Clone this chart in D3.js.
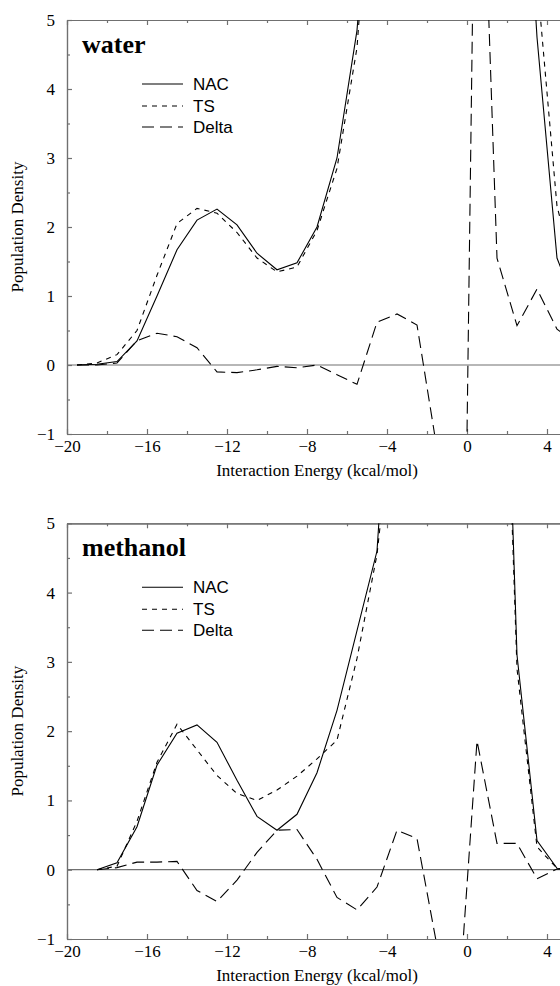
<!DOCTYPE html>
<html>
<head>
<meta charset="utf-8">
<script src="https://cdn.jsdelivr.net/npm/d3@7"></script>
<style>
  html, body { margin: 0; padding: 0; background: #fff; }
  svg { display: block; }
</style>
</head>
<body>
<div id="chart"></div>
<script>
// ---------------- DATA ----------------
const waterEnergy = [-19.5,-18.5,-17.5,-16.5,-15.5,-14.5,-13.5,-12.5,-11.5,-10.5,-9.5,-8.5,-7.5,-6.5,-5.5,-4.5,-3.5,-2.5,-1.5,-0.5,0.5,1.5,2.5,3.5,4.5,5.5];
const waterNAC   = [0,0.01,0.05,0.35,1.0,1.67,2.10,2.26,2.03,1.62,1.38,1.48,2.0,3.0,4.85,8.5,12,15,17,18,17,14,9.5,4.75,1.55,0.8];
const waterTS    = [0,0.03,0.15,0.5,1.3,2.05,2.27,2.2,1.92,1.55,1.35,1.42,1.95,2.85,4.6,8.5,12,15,17,18,18,15,10,5.6,2.3,1.2];
const waterDelta = [0,0,0.03,0.35,0.46,0.41,0.25,-0.1,-0.11,-0.07,-0.02,-0.04,0.0,-0.14,-0.28,0.62,0.74,0.58,-1.22,-12,10,1.55,0.57,1.1,0.52,0.3];

const methanolEnergy = [-18.5,-17.5,-16.5,-15.5,-14.5,-13.5,-12.5,-11.5,-10.5,-9.5,-8.5,-7.5,-6.5,-5.5,-4.5,-3.5,-2.5,-1.5,-0.5,0.5,1.5,2.5,3.5,4.5,5.5];
const methanolNAC   = [0,0.1,0.62,1.51,1.97,2.09,1.84,1.29,0.77,0.57,0.8,1.4,2.3,3.45,4.6,9,13,16,17,16,12,3.1,0.42,0.02,0];
const methanolTS    = [0,0.05,0.7,1.55,2.1,1.73,1.36,1.1,1.0,1.15,1.35,1.6,1.87,3.05,4.55,7.2,12,15,16,15,11.5,2.9,0.33,0.02,0];
const methanolDelta = [0,0.03,0.11,0.11,0.12,-0.3,-0.46,-0.15,0.25,0.57,0.58,0.15,-0.4,-0.58,-0.25,0.57,0.45,-1.1,-2.3,1.86,0.38,0.38,-0.13,0.01,0];

const xTicksMajor = [-20,-16,-12,-8,-4,0,4];
const xTicksMinor = [-18,-14,-10,-6,-2,2];
const yTicksMajor = [-1,0,1,2,3,4,5];
const yTicksMinor = [-0.5,0.5,1.5,2.5,3.5,4.5];
const seriesNames = ["NAC","TS","Delta"];
const panelNames = ["water","methanol"];
const xTitle = "Interaction Energy (kcal/mol)";
const yTitle = "Population Density";

// ---------------- DRAW ----------------
const W = 560, H = 986;
const svg = d3.select("#chart").append("svg").attr("width", W).attr("height", H);

const axisColor = "#707070";
const serif = "'Liberation Serif','Times New Roman',serif";
const dashes = { NAC: null, TS: "5,5", Delta: "12,6" };

const x = d3.scaleLinear().domain([-20, 5]).range([67, 567]);

function panel(idx, top, bottom, energy, series, name) {
  const y = d3.scaleLinear().domain([-1, 5]).range([bottom, top]);
  const g = svg.append("g");

  const clipId = "clip" + idx;
  svg.append("clipPath").attr("id", clipId)
    .append("rect").attr("x", x(-20)).attr("y", top).attr("width", x(5) - x(-20)).attr("height", bottom - top);

  // zero line
  g.append("line").attr("x1", x(-20)).attr("x2", x(5)).attr("y1", y(0)).attr("y2", y(0))
    .attr("stroke", axisColor).attr("stroke-width", 1.2);

  const styleAxis = sel => {
    sel.selectAll("path,line").attr("stroke", axisColor).attr("stroke-width", 1.2);
    sel.selectAll("text").attr("fill", "#000")
      .attr("font-family", serif).attr("font-size", 17);
  };
  const bottomAx = g.append("g").attr("transform", `translate(0,${bottom})`)
    .call(d3.axisBottom(x).tickValues(xTicksMajor).tickSizeInner(-5).tickSizeOuter(0).tickPadding(6).tickFormat(d3.format("d")));
  styleAxis(bottomAx);
  const bottomMin = g.append("g").attr("transform", `translate(0,${bottom})`)
    .call(d3.axisBottom(x).tickValues(xTicksMinor).tickSizeInner(-3).tickSizeOuter(0).tickFormat(""));
  styleAxis(bottomMin);
  const topAx = g.append("g").attr("transform", `translate(0,${top})`)
    .call(d3.axisTop(x).tickValues(xTicksMajor).tickSizeInner(-5).tickSizeOuter(0).tickFormat(""));
  styleAxis(topAx);
  const topMin = g.append("g").attr("transform", `translate(0,${top})`)
    .call(d3.axisTop(x).tickValues(xTicksMinor).tickSizeInner(-3).tickSizeOuter(0).tickFormat(""));
  styleAxis(topMin);
  const leftAx = g.append("g").attr("transform", `translate(${x(-20)},0)`)
    .call(d3.axisLeft(y).tickValues(yTicksMajor).tickSizeInner(-5).tickSizeOuter(0).tickPadding(12).tickFormat(d3.format("d")));
  styleAxis(leftAx);
  const leftMin = g.append("g").attr("transform", `translate(${x(-20)},0)`)
    .call(d3.axisLeft(y).tickValues(yTicksMinor).tickSizeInner(-3).tickSizeOuter(0).tickFormat(""));
  styleAxis(leftMin);
  const rightAx = g.append("g").attr("transform", `translate(${x(5)},0)`)
    .call(d3.axisRight(y).tickValues(yTicksMajor).tickSizeInner(-5).tickSizeOuter(0).tickFormat(""));
  styleAxis(rightAx);

  // lines
  const line = d3.line().x(d => x(d[0])).y(d => y(d[1]));
  const lg = g.append("g").attr("clip-path", `url(#${clipId})`);
  seriesNames.forEach((s, i) => {
    const pts = energy.map((e, k) => [e, series[i][k]]);
    lg.append("path").attr("d", line(pts)).attr("fill", "none")
      .attr("stroke", "#000").attr("stroke-width", 1.1)
      .attr("stroke-dasharray", dashes[s]);
  });

  // panel label
  g.append("text").attr("x", 82).attr("y", top + 33).text(name)
    .attr("font-family", serif)
    .attr("font-weight", "bold").attr("font-size", 26).attr("fill", "#000");

  // legend
  const legY = [top + 64, top + 86, top + 107];
  seriesNames.forEach((s, i) => {
    g.append("line").attr("x1", 142).attr("x2", 183).attr("y1", legY[i]).attr("y2", legY[i])
      .attr("stroke", "#000").attr("stroke-width", 1.1).attr("stroke-dasharray", dashes[s]);
    g.append("text").attr("x", 193).attr("y", legY[i] + 6).text(s)
      .attr("font-family", "'Liberation Sans',Arial,sans-serif").attr("font-size", 17).attr("fill", "#000");
  });

  // axis titles
  g.append("text").attr("x", (x(-20) + x(5)) / 2).attr("y", bottom + 42).attr("text-anchor", "middle")
    .text(xTitle).attr("font-family", serif).attr("font-size", 17);
  g.append("text").attr("transform", `translate(23,${(top + bottom) / 2}) rotate(-90)`)
    .attr("text-anchor", "middle").text(yTitle)
    .attr("font-family", serif).attr("font-size", 17);
}

panel(0, 20, 434, waterEnergy, [waterNAC, waterTS, waterDelta], panelNames[0]);
panel(1, 523.3, 939, methanolEnergy, [methanolNAC, methanolTS, methanolDelta], panelNames[1]);
</script>
</body>
</html>
